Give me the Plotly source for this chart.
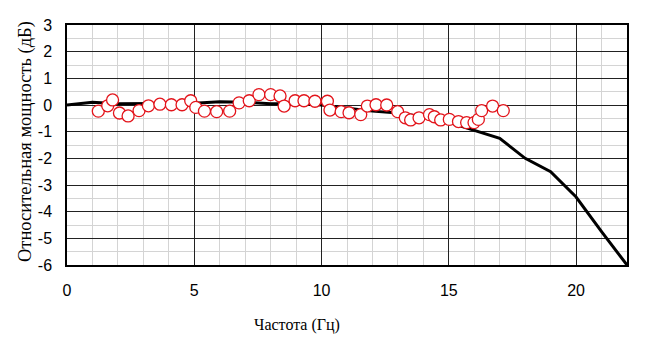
import plotly.graph_objects as go

# Model curve (black line)
line_x = [0, 1, 2, 3, 4, 5, 6, 7, 8, 9, 10, 11, 12, 13, 14, 15, 16, 17, 18, 19, 20, 21, 22]
line_y = [0, 0.1, 0.05, 0.05, 0.05, 0.07, 0.12, 0.1, 0.05, 0.05, 0.0, -0.12, -0.23, -0.3,
          -0.45, -0.65, -0.95, -1.25, -2.0, -2.5, -3.45, -4.75, -6.0]

# Measured points (red open circles)
meas_x = [1.23, 1.6, 1.79, 2.06, 2.4, 2.83, 3.2, 3.65, 4.1, 4.52, 4.86, 5.06, 5.4, 5.88,
          6.39, 6.76, 7.16, 7.54, 8.0, 8.37, 8.53, 8.96, 9.31, 9.74, 10.23, 10.33, 10.77,
          11.08, 11.54, 11.8, 12.14, 12.56, 12.99, 13.29, 13.5, 13.83, 14.24, 14.43, 14.68,
          15.02, 15.38, 15.7, 15.99, 16.16, 16.29, 16.72, 17.14]
meas_y = [-0.23, -0.03, 0.19, -0.3, -0.41, -0.21, -0.03, 0.03, 0.01, 0.01, 0.16, -0.09,
          -0.23, -0.25, -0.23, 0.08, 0.16, 0.39, 0.39, 0.34, -0.04, 0.16, 0.16, 0.14, 0.14,
          -0.19, -0.25, -0.29, -0.36, -0.04, 0.01, 0.0, -0.25, -0.48, -0.56, -0.48, -0.36,
          -0.44, -0.56, -0.54, -0.62, -0.66, -0.66, -0.54, -0.21, -0.04, -0.21]

x_ticks = [0, 5, 10, 15, 20]
y_ticks = [3, 2, 1, 0, -1, -2, -3, -4, -5, -6]

fig = go.Figure()
fig.add_trace(go.Scatter(x=line_x, y=line_y, mode="lines",
                         line=dict(color="black", width=3), showlegend=False))
fig.add_trace(go.Scatter(x=meas_x, y=meas_y, mode="markers",
                         marker=dict(symbol="circle", size=12, color="white",
                                     line=dict(color="#e3141b", width=1.3)),
                         showlegend=False))

tickfont = dict(family="'Liberation Sans Narrow', 'Liberation Sans', sans-serif", size=16, color="black")
serif = "'Liberation Serif', 'DejaVu Serif', serif"

fig.update_layout(
    width=659, height=341,
    margin=dict(l=67, r=32, t=25, b=76),
    paper_bgcolor="white", plot_bgcolor="white",
    xaxis=dict(range=[0, 22], tickvals=x_ticks, ticktext=[str(v) for v in x_ticks],
               showgrid=True, gridcolor="#222222", gridwidth=1.3,
               minor=dict(dtick=1, tick0=0, showgrid=True, gridcolor="#d4d4d4", gridwidth=1.3),
               zeroline=False, showline=True, linecolor="black", linewidth=1.5, mirror=True,
               tickfont=tickfont, ticks="", ticklabelstandoff=10),
    yaxis=dict(range=[-6, 3], tickvals=y_ticks, ticktext=[str(v) for v in y_ticks],
               showgrid=True, gridcolor="#222222", gridwidth=1.3,
               minor=dict(dtick=0.5, tick0=0, showgrid=True, gridcolor="#d4d4d4", gridwidth=1.3),
               zeroline=False, showline=True, linecolor="black", linewidth=1.5, mirror=True,
               tickfont=tickfont, ticks="", ticklabelstandoff=10),
    annotations=[
        dict(text="Частота (Гц)", xref="paper", yref="paper",
             x=(297 - 67) / (627 - 67), y=(341 - 76 - 325) / (341 - 76 - 25),
             showarrow=False, xanchor="center", yanchor="middle",
             font=dict(family=serif, size=16, color="black")),
        dict(text="Относительная мощность (дБ)", xref="paper", yref="paper",
             x=(25 - 67) / (627 - 67), y=(265 - 142) / (265 - 25), textangle=-90,
             showarrow=False, xanchor="center", yanchor="middle",
             font=dict(family=serif, size=18.5, color="black")),
    ],
)

fig.write_html("out.html")
